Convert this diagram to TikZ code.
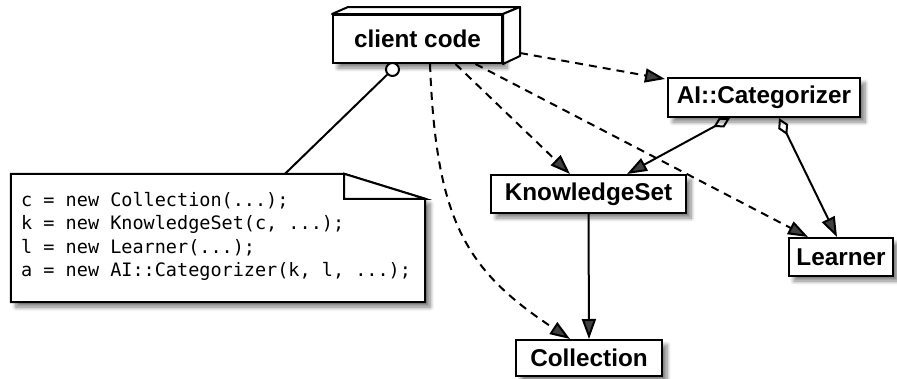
\documentclass[tikz,border=0pt]{standalone}
\usepackage{fontspec}
\setsansfont{Liberation Sans}
\setmonofont{DejaVu Sans Mono}
\usetikzlibrary{arrows.meta,shadows.blur}

\begin{document}
\begin{tikzpicture}[x=1pt,y=-1pt,
  lw/.style={line width=2pt},
  softshadow/.style={blur shadow={shadow xshift=5pt,shadow yshift=-5pt,
      shadow blur radius=4pt,shadow blur steps=8,shadow opacity=50}},
  classbox/.style={draw,lw,fill=white,softshadow,inner sep=0pt,
      font=\sffamily\bfseries\fontsize{24.3}{29}\selectfont},
  dep/.style={lw,dash pattern=on 8pt off 6pt,-{Triangle[length=20pt,width=14pt]}},
  nav/.style={lw,-{Triangle[length=20pt,width=14pt]}},
  agg/.style={lw,{Diamond[open,length=19pt,width=11pt]}-{Triangle[length=20pt,width=14pt]}},
]
\useasboundingbox (0,0) rectangle (897,378);

% note with folded corner
\node[minimum width=414pt,minimum height=128pt,inner sep=0pt] (note) at (218,238) {};
\draw[lw,fill=white,softshadow,line join=miter]
  (note.south west) -- (note.north west) -- ([xshift=-81pt]note.north east)
  -- ([yshift=-25pt]note.north east) -- (note.south east) -- cycle;
\draw[lw,fill=white] ([xshift=-81pt]note.north east)
  -- ([xshift=-81pt,yshift=-25pt]note.north east)
  -- ([yshift=-25pt]note.north east) -- cycle;
\node[anchor=west,align=left,inner sep=0pt,
      font=\ttfamily\fontsize{18.5}{23.5}\selectfont] (code) at (21,236.5)
  {c = new Collection(...);\\
   k = new KnowledgeSet(c, ...);\\
   l = new Learner(...);\\
   a = new AI::Categorizer(k, l, ...);};

% client code as a 3D box
\node[classbox,minimum width=169pt,minimum height=48pt] (cc) at (417.5,39) {client code};
\draw[lw,fill=white,line join=round] (cc.north west) -- ([xshift=16pt,yshift=7pt]cc.north west)
  -- ([xshift=17pt,yshift=7pt]cc.north east) -- (cc.north east) -- cycle;
\draw[lw,fill=white,line join=round] (cc.north east) -- ([xshift=17pt,yshift=7pt]cc.north east)
  -- ([xshift=17pt,yshift=8pt]cc.south east) -- (cc.south east) -- cycle;

% classes
\node[classbox,minimum width=192pt,minimum height=39pt] (ai)  at (764,97.5) {AI::Categorizer};
\node[classbox,minimum width=195pt,minimum height=38pt] (ks)  at (588.5,194) {KnowledgeSet};
\node[classbox,minimum width=104pt,minimum height=38pt] (ln)  at (841,257) {Learner};
\node[classbox,minimum width=146pt,minimum height=36pt] (col) at (589,358) {Collection};

% interface lollipop to the note
\node[circle,draw,lw,fill=white,minimum size=13pt,inner sep=0pt] (lp) at (392.5,69.5) {};
\draw[lw] (lp) -- ([xshift=67pt]note.north);

% dependencies of the client code
\draw[dep] ([xshift=12.5pt]cc.south) .. controls (436,220) and (465,270) .. ([xshift=-19pt]col.north);
\draw[dep] ([xshift=38pt]cc.south) -- ([xshift=-18.5pt]ks.north);
\draw[dep] ([xshift=58pt]cc.south) -- ([xshift=-33pt]ln.north);
\draw[dep] ([xshift=17pt,yshift=-14pt]cc.east) -- ([xshift=-2pt,yshift=-2pt]ai.north west);

% aggregations and navigation
\draw[agg] ([xshift=-34pt]ai.south) -- ([xshift=38.5pt]ks.north);
\draw[agg] ([xshift=15pt]ai.south) -- ([xshift=-4pt]ln.north);
\draw[nav] (ks.south) -- (col.north);
\end{tikzpicture}
\end{document}
